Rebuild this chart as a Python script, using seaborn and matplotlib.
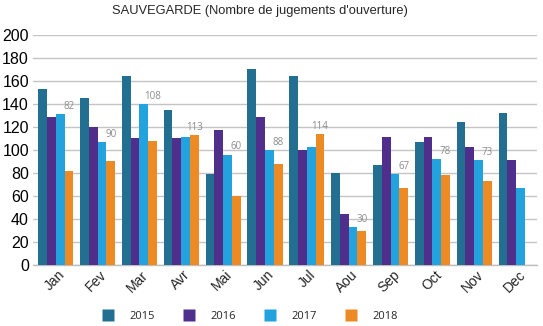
import numpy as np
import pandas as pd
import matplotlib
matplotlib.use("Agg")
import matplotlib.pyplot as plt
import matplotlib.transforms as mtransforms
from matplotlib.lines import Line2D
import seaborn as sns

months = ["Jan", "Fev", "Mar", "Avr", "Mai", "Jun", "Jul", "Aou", "Sep", "Oct", "Nov", "Dec"]
years = ["2015", "2016", "2017", "2018"]
v2015 = [153, 145, 164, 135, 79, 170, 164, 80, 87, 107, 124, 132]
v2016 = [129, 120, 110, 110, 117, 129, 100, 44, 111, 111, 103, 91]
v2017 = [131, 107, 140, 111, 96, 100, 103, 33, 79, 92, 91, 67]
v2018 = [82, 90, 108, 113, 60, 88, 114, 30, 67, 78, 73, np.nan]
colors = ["#226F92", "#4F2E8C", "#22A3DE", "#EE8A24"]
title = "SAUVEGARDE (Nombre de jugements d'ouverture)"

series = dict(zip(years, [v2015, v2016, v2017, v2018]))
df = pd.DataFrame(
    [(m, y, series[y][i]) for y in years for i, m in enumerate(months)],
    columns=["mois", "annee", "valeur"],
)

sns.set_theme(style="white")
plt.rcParams["font.family"] = ["Liberation Sans", "DejaVu Sans"]

fig = plt.figure(figsize=(5.43, 3.26), dpi=100)
ax = fig.add_axes([0.061, 0.187, 0.928, 0.706])

sns.barplot(data=df, x="mois", y="valeur", hue="annee", order=months,
            hue_order=years, palette=colors, width=0.84, saturation=1,
            edgecolor="none", linewidth=0, ax=ax, legend=False, zorder=3)

ax.set_ylim(0, 200)
ax.set_xlim(-0.54, 11.5)
ax.set_yticks(range(0, 201, 20))
ax.yaxis.grid(True, color="#C4C4C4", linewidth=1.0, zorder=0)
ax.set_axisbelow(True)
for s in ["top", "right", "left"]:
    ax.spines[s].set_visible(False)
ax.spines["bottom"].set_color("#BDBDBD")
ax.spines["bottom"].set_linewidth(1.0)
ax.set_xlabel("")
ax.set_ylabel("")
ax.tick_params(axis="y", length=0, labelsize=11.5, pad=3, colors="#000000")
ax.tick_params(axis="x", length=0, labelsize=10, pad=2)
shift = mtransforms.ScaledTranslation(2 / 100, 0, fig.dpi_scale_trans)
for lbl in ax.get_xticklabels():
    lbl.set_rotation(45)
    lbl.set_ha("right")
    lbl.set_rotation_mode("anchor")
    lbl.set_transform(lbl.get_transform() + shift)

# value labels for the 2018 series
bw = 0.84 / 4
for i, val in enumerate(v2018):
    if np.isnan(val):
        continue
    x = i + 1.5 * bw
    top = max(val, v2017[i])
    ax.text(x, top + 2, f"{int(val)}", ha="center", va="bottom",
            fontsize=7, color="#8C8C8C", family=["Open Sans", "DejaVu Sans"])

fig.text(0.479, 0.965, title, ha="center", va="center", fontsize=9.3)

handles = [Line2D([0], [0], marker="s", linestyle="none", markersize=9,
                  markerfacecolor=c, markeredgecolor="none") for c in colors]
fig.legend(handles, years, loc="center", bbox_to_anchor=(0.456, 0.028), ncol=4,
           frameon=False, handletextpad=0.9, columnspacing=2.1,
           prop={"family": ["Open Sans", "DejaVu Sans"], "size": 8})

fig.savefig("out.png", dpi=100)
